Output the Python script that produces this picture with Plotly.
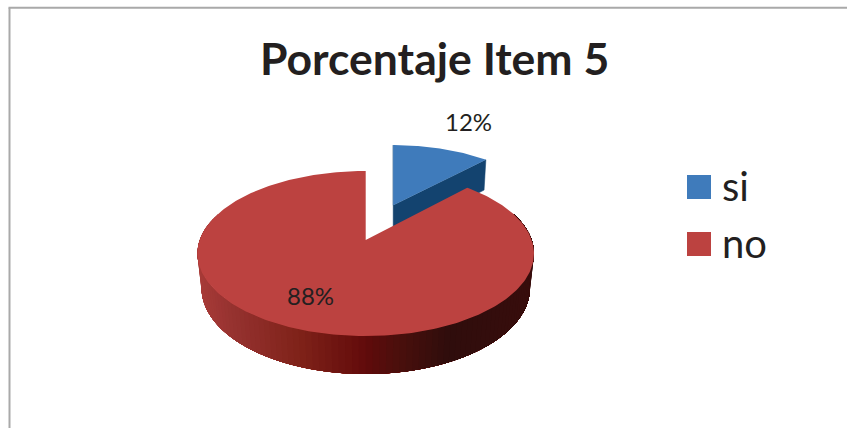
import math
import numpy as np
import plotly.graph_objects as go

# Chart content
TITLE = "Porcentaje Item 5"
categories = ["si", "no"]
values = [12, 88]
top_colors = ["#3F7BBB", "#BC4240"]
blue_wall_color = "#13436F"

# Side wall shading of the large slice, sampled left to right across the disc
wall_stops = [0.0, 0.1, 0.3, 0.48, 0.5, 0.6, 0.75, 1.0]
wall_colors = ["#A83B38", "#963230", "#7F2219", "#650D0C", "#600A0B", "#4A0F0C", "#2F0D0C", "#380D0C"]

# Perspective model of the tilted disc (canvas units)
WIDTH, HEIGHT = 847, 428
CX, CY = 365.7, 240.0
A, B = 166.0, 80.3
K = 0.1636      # foreshortening from front to back
DROP = 35.0     # wall height
DROP_K = 0.024  # shrink of the lower rim
EXPLODE = 0.5   # pull-out distance of the first slice
SLICE_SHIFT_X = 27.5   # horizontal travel of the pulled-out slice on the canvas
SLICE_SCALE_X = 0.975


def project(px, py, lower=False):
    w = 1 + K * py + (DROP_K if lower else 0)
    sy = B * py - (DROP if lower else 0)
    return CX + A * px / w, CY - sy / w


def project_slice(s, c, dy, lower=False):
    # Pulled-out slice: travels straight across the canvas so its first edge stays upright
    w = 1 + K * (c + dy) + (DROP_K if lower else 0)
    sy = B * (c + dy) - (DROP if lower else 0)
    return CX + SLICE_SHIFT_X + SLICE_SCALE_X * A * s / w, CY - sy / w


def hex_rgb(c):
    return np.array([int(c[i:i + 2], 16) for i in (1, 3, 5)], dtype=float)


def wall_color(u):
    rgb = [np.interp(u, wall_stops, [hex_rgb(c)[i] for c in wall_colors]) for i in range(3)]
    return "rgb({:.0f},{:.0f},{:.0f})".format(*rgb)


def polygon(xs, ys, color, line=0.0):
    return go.Scatter(
        x=list(xs), y=list(ys), mode="lines", fill="toself", fillcolor=color,
        line=dict(color=color, width=line), hoverinfo="skip", showlegend=False,
    )


total = sum(values)
split = 2 * math.pi * values[0] / total
mid = split / 2
dy = EXPLODE * math.cos(mid)

fig = go.Figure()

# Pulled-out slice: inner walls first, then its top face
for edge in (0.0, split):
    s, c = math.sin(edge), math.cos(edge)
    pts = [
        project_slice(0.0, 0.0, dy),
        project_slice(s, c, dy),
        project_slice(s, c, dy, True),
        project_slice(0.0, 0.0, dy, True),
    ]
    fig.add_trace(polygon([p[0] for p in pts], [p[1] for p in pts], blue_wall_color, 0.5))

t = np.linspace(0.0, split, 80)
bx, by = project_slice(np.sin(t), np.cos(t), dy)
ox, oy = project_slice(0.0, 0.0, dy)
fig.add_trace(polygon(np.r_[ox, bx], np.r_[oy, by], top_colors[0]))

# Outer wall of the large slice: overlapping shaded strips painted left to right
t = np.linspace(0.0, 2 * math.pi, 400)
outline_x = project(np.sin(t), np.cos(t))[0]
left_x, right_x = outline_x.min(), outline_x.max()
angles = np.linspace(math.radians(290), math.radians(70), 111)
for a0, a1 in zip(angles[:-1], angles[1:]):
    # each strip runs on to the far end of the wall, so no seams can show between them
    arc = np.linspace(a0, math.radians(70), 60)
    ux, uy = project(np.sin(arc), np.cos(arc))
    lx, ly = project(np.sin(arc[::-1]), np.cos(arc[::-1]), True)
    u = (project(math.sin(0.5 * (a0 + a1)), math.cos(0.5 * (a0 + a1)))[0] - left_x) / (right_x - left_x)
    fig.add_trace(polygon(np.r_[ux, lx], np.r_[uy, ly], wall_color(u)))

# Top face of the large slice
t = np.linspace(split, 2 * math.pi, 300)
rx, ry = project(np.sin(t), np.cos(t))
ax, ay = project(0.0, 0.0)
fig.add_trace(polygon(np.r_[ax, rx], np.r_[ay, ry], top_colors[1]))

# Legend entries
for name, color, ly in zip(categories, top_colors, (187, 244)):
    fig.add_trace(go.Scatter(
        x=[699], y=[ly], mode="markers", name=name,
        marker=dict(symbol="square", size=24, color=color, line=dict(width=0)),
        hoverinfo="skip", showlegend=False, cliponaxis=False,
    ))
    fig.add_annotation(
        x=720, y=ly - 1, text=name, showarrow=False, xanchor="left",
        font=dict(family="Lato", size=40, color="#231F20"),
    )

# Percentage labels
for v, (tx, ty) in zip(values, ((468, 121), (310, 295))):
    fig.add_annotation(
        x=tx, y=ty, text=f"{round(100 * v / total)}%", showarrow=False,
        font=dict(family="Lato", size=24, color="#231F20"),
    )

# Title
fig.add_annotation(
    x=434, y=57, text=f"<b>{TITLE}</b>", showarrow=False,
    font=dict(family="Lato", size=44.5, color="#231F20"),
)

# Chart frame, cut off by the page on the right and bottom
fig.add_shape(type="line", x0=9.5, x1=9.5, y0=7.8, y1=HEIGHT, line=dict(color="#A9A9A9", width=2))
fig.add_shape(type="line", x0=8.5, x1=WIDTH, y0=7.8, y1=7.8, line=dict(color="#A9A9A9", width=2))

fig.update_layout(
    width=WIDTH, height=HEIGHT, margin=dict(l=0, r=0, t=0, b=0),
    paper_bgcolor="white", plot_bgcolor="white", showlegend=False,
    xaxis=dict(range=[0, WIDTH], visible=False, fixedrange=True),
    yaxis=dict(range=[HEIGHT, 0], visible=False, fixedrange=True),
)

fig.write_html("out.html")
